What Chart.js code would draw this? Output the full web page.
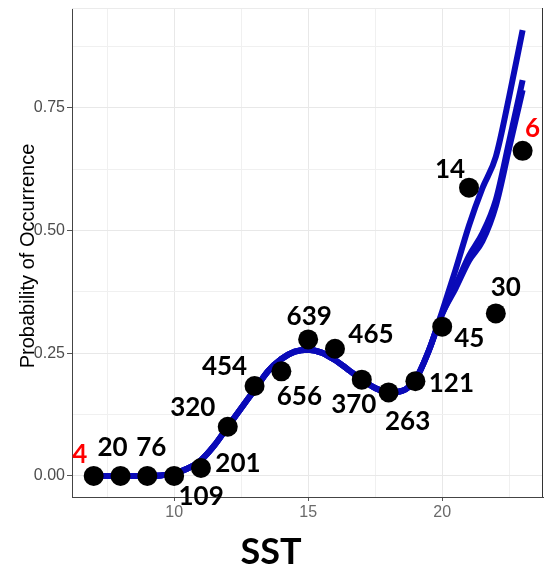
<!DOCTYPE html>
<html>
<head>
<meta charset="utf-8">
<script src="https://cdn.jsdelivr.net/npm/chart.js@4"></script>
<style>
  html, body { margin: 0; padding: 0; background: #fff; }
  canvas { display: block; }
</style>
</head>
<body>
<canvas id="chart" width="545" height="572"></canvas>
<script>
// Observed probability of occurrence per SST bin, with the sample size of each bin
const sst = [7, 8, 9, 10, 11, 12, 13, 14, 15, 16, 17, 18, 19, 20, 21, 22, 23];
const probability = [0, 0, 0, 0, 0.016, 0.100, 0.183, 0.213, 0.278, 0.259, 0.196, 0.170, 0.193, 0.304, 0.587, 0.331, 0.662];
const sampleSize = [4, 20, 76, 109, 201, 320, 454, 656, 639, 465, 370, 263, 121, 45, 14, 30, 6];

// Fitted smooth curves (three fits, identical up to ~20 degrees)
const smoothX = [7, 7.5, 8, 8.5, 9, 9.5, 10, 10.5, 11, 11.5, 12, 12.5, 13, 13.5, 14, 14.5, 15, 15.5,
                 16, 16.5, 17, 17.5, 18, 18.5, 19, 19.5, 20, 20.5, 21, 21.5, 22, 22.5, 23];
const fitA = [0, 0, 0, 0, 0, 0.001, 0.005, 0.015, 0.032, 0.062, 0.100, 0.138, 0.175, 0.213, 0.238, 0.253, 0.257, 0.251,
              0.236, 0.216, 0.196, 0.179, 0.170, 0.173, 0.196, 0.255, 0.335, 0.420, 0.510, 0.586, 0.650, 0.773, 0.908];
const fitB = [0, 0, 0, 0, 0, 0.001, 0.005, 0.015, 0.032, 0.062, 0.100, 0.138, 0.175, 0.213, 0.238, 0.253, 0.257, 0.251,
              0.236, 0.216, 0.196, 0.179, 0.170, 0.173, 0.196, 0.255, 0.330, 0.388, 0.448, 0.494, 0.562, 0.682, 0.806];
const fitC = [0, 0, 0, 0, 0, 0.001, 0.005, 0.015, 0.032, 0.062, 0.100, 0.138, 0.175, 0.213, 0.238, 0.253, 0.257, 0.251,
              0.236, 0.216, 0.196, 0.179, 0.170, 0.173, 0.196, 0.255, 0.330, 0.382, 0.438, 0.478, 0.550, 0.668, 0.786];

// Axis ticks: gridlines every half step, labels on the major ones
const xGridTicks = [7.5, 10, 12.5, 15, 17.5, 20, 22.5];
const xTickLabels = [10, 15, 20];
const yGridTicks = [0, 0.125, 0.25, 0.375, 0.5, 0.625, 0.75, 0.875];
const yTickLabels = [0, 0.25, 0.5, 0.75];

// Placement of each sample-size label relative to its point (px)
const labelOffsets = [[-14, -21], [-8, -28], [4, -28], [27, 21], [37, -4], [-35, -19], [-30, -19], [18, 25], [1, -23],
                      [36, -14], [-8, 25], [19, 29], [36, 2], [27, 12], [-19, -18], [10, -26], [10, -22]];

const CURVE_COLOR = '#0a0ab8';
const TICK_FAMILY = '"Liberation Sans", Arial, sans-serif';
const toXY = (xs, ys) => xs.map((x, i) => ({ x, y: ys[i] }));

const curve = (ys) => ({
  type: 'line',
  data: toXY(smoothX, ys),
  borderColor: CURVE_COLOR,
  borderWidth: 6,
  borderCapStyle: 'butt',
  pointRadius: 0,
  fill: false,
  cubicInterpolationMode: 'monotone',
  order: 1
});

const nearlyEqual = (a, b) => Math.abs(a - b) < 1e-9;
const isMajor = (list, v) => list.some(t => nearlyEqual(t, v));
const tickIsMajor = (list, c) => !c.tick || isMajor(list, c.tick.value);
// unlabeled minor ticks get a tiny font so they reserve no room
const tickFont = (list) => c => ({ family: TICK_FAMILY, size: tickIsMajor(list, c) ? 16 : 1 });

const annotations = {
  id: 'annotations',
  afterDatasetsDraw(chart) {
    const { ctx, chartArea } = chart;
    ctx.save();
    // panel frame: light top edge, dark right edge
    ctx.strokeStyle = '#ebebeb';
    ctx.lineWidth = 1;
    ctx.beginPath();
    ctx.moveTo(chartArea.left, chartArea.top + 0.5);
    ctx.lineTo(chartArea.right, chartArea.top + 0.5);
    ctx.stroke();
    ctx.strokeStyle = '#333';
    ctx.beginPath();
    ctx.moveTo(chartArea.right - 0.5, chartArea.top);
    ctx.lineTo(chartArea.right - 0.5, chartArea.bottom);
    ctx.stroke();

    // sample-size labels next to each point
    const meta = chart.getDatasetMeta(3);
    ctx.font = 'bold 26px Lato, "Open Sans", sans-serif';
    ctx.textAlign = 'center';
    ctx.textBaseline = 'middle';
    meta.data.forEach((el, i) => {
      const n = sampleSize[i];
      ctx.fillStyle = n < 10 ? '#ff0000' : '#000000';
      const [dx, dy] = labelOffsets[i];
      ctx.fillText(String(n), el.x + dx, el.y + dy);
    });
    ctx.restore();
  },
  afterDraw(chart) {
    const { ctx } = chart;
    ctx.save();
    ctx.fillStyle = '#000';
    ctx.textAlign = 'center';
    ctx.textBaseline = 'middle';
    ctx.font = 'bold 36px Lato, "Open Sans", sans-serif';
    ctx.fillText('SST', 271, 552);
    ctx.translate(28, 256);
    ctx.rotate(-Math.PI / 2);
    ctx.font = '20px "Liberation Sans", Arial, sans-serif';
    ctx.fillText('Probability of Occurrence', 0, 0);
    ctx.restore();
  }
};

new Chart(document.getElementById('chart'), {
  data: {
    datasets: [
      curve(fitA),
      curve(fitB),
      curve(fitC),
      {
        type: 'scatter',
        data: toXY(sst, probability),
        backgroundColor: '#000',
        borderWidth: 0,
        pointRadius: 10,
        order: 0,
        clip: false
      }
    ]
  },
  options: {
    responsive: false,
    animation: false,
    events: [],
    layout: { autoPadding: false, padding: { top: 8, right: 2, left: 0, bottom: 0 } },
    plugins: { legend: { display: false }, tooltip: { enabled: false } },
    scales: {
      x: {
        type: 'linear',
        min: 6.19,
        max: 23.76,
        afterBuildTicks: s => { s.ticks = xGridTicks.map(v => ({ value: v })); },
        afterFit: s => { s.height = 75; },
        ticks: {
          autoSkip: false,
          maxRotation: 0,
          padding: 2,
          color: '#6a6a6a',
          font: tickFont(xTickLabels),
          callback: v => isMajor(xTickLabels, v) ? String(v) : ''
        },
        grid: {
          color: c => tickIsMajor(xTickLabels, c) ? '#e8e8e8' : '#f0f0f0',
          tickColor: c => tickIsMajor(xTickLabels, c) ? '#555' : 'rgba(0,0,0,0)',
          tickLength: 4,
          lineWidth: 1
        },
        border: { color: '#444', width: 1 }
      },
      y: {
        type: 'linear',
        min: -0.043,
        max: 0.953,
        afterBuildTicks: s => { s.ticks = yGridTicks.map(v => ({ value: v })); },
        afterFit: s => { s.width = 72; },
        ticks: {
          autoSkip: false,
          padding: 2,
          color: '#4d4d4d',
          font: tickFont(yTickLabels),
          callback: v => isMajor(yTickLabels, v) ? v.toFixed(2) : ''
        },
        grid: {
          color: c => tickIsMajor(yTickLabels, c) ? '#e8e8e8' : '#f0f0f0',
          tickColor: c => tickIsMajor(yTickLabels, c) ? '#555' : 'rgba(0,0,0,0)',
          tickLength: 5,
          lineWidth: 1
        },
        border: { color: '#444', width: 1 }
      }
    }
  },
  plugins: [annotations]
});
</script>
</body>
</html>
